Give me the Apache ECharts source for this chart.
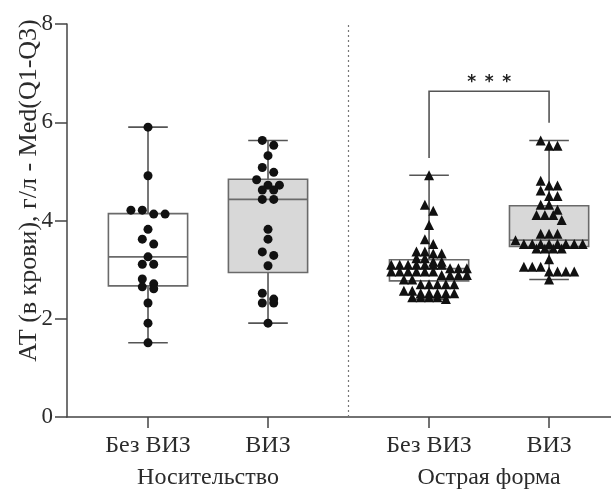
<!DOCTYPE html>
<html>
<head>
<meta charset="utf-8">
<script src="https://cdn.jsdelivr.net/npm/echarts@6/dist/echarts.min.js"></script>
<style>
  html, body { margin: 0; padding: 0; background: #fff; }
  #chart { width: 611px; height: 490px; }
</style>
</head>
<body>
<div id="chart"></div>
<script>
// --- data ---
const categories = ['Без ВИЗ', 'ВИЗ', 'Без ВИЗ', 'ВИЗ']
const groups = ['Носительство', 'Острая форма']
const yTitle = 'АТ (в крови), г/л - Med(Q1-Q3)'
const signif = ['*', '*', '*']

// min, Q1, median, Q3, max
const boxCarrierNo = [1.51, 2.67, 3.26, 4.14, 5.90]
const boxCarrierYes = [1.91, 2.94, 4.43, 4.84, 5.63]
const boxAcuteNo = [2.40, 2.77, 3.02, 3.20, 4.92]
const boxAcuteYes = [2.80, 3.47, 3.60, 4.30, 5.63]

const ptsCarrierNo = [5.90, 4.91, 4.21, 4.21, 4.13, 4.13, 3.82, 3.62, 3.52, 3.26, 3.11, 3.11,
  2.81, 2.71, 2.65, 2.61, 2.32, 1.91, 1.51]
const ptsCarrierYes = [5.63, 5.53, 5.32, 5.08, 4.98, 4.83, 4.72, 4.72, 4.62, 4.62, 4.43, 4.43,
  3.82, 3.62, 3.36, 3.29, 3.08, 2.52, 2.40, 2.32, 2.32, 1.91]
const ptsAcuteNo = [4.92, 4.32, 4.20, 3.91, 3.62, 3.52,
  3.37, 3.37, 3.33, 3.33, 3.23, 3.23, 3.16, 3.16,
  3.10, 3.10, 3.10, 3.10, 3.10, 3.10, 3.10, 3.03, 3.03, 3.03,
  2.96, 2.96, 2.96, 2.96, 2.96, 2.96, 2.89, 2.89, 2.89, 2.89,
  2.80, 2.80, 2.70, 2.70, 2.70, 2.70, 2.70,
  2.57, 2.57, 2.52, 2.52, 2.52, 2.52, 2.52,
  2.44, 2.44, 2.44, 2.44, 2.40]
const ptsAcuteYes = [5.63, 5.52, 5.52, 4.81, 4.71, 4.71, 4.61, 4.50, 4.50, 4.32, 4.32, 4.22,
  4.11, 4.11, 4.11, 4.01, 3.73, 3.73, 3.73, 3.60,
  3.52, 3.52, 3.52, 3.52, 3.52, 3.52, 3.52, 3.52, 3.43, 3.43, 3.43, 3.43,
  3.21, 3.06, 3.06, 3.06, 2.96, 2.96, 2.96, 2.96, 2.80]

// --- layout ---
const boxes = [boxCarrierNo, boxCarrierYes, boxAcuteNo, boxAcuteYes]
const points = [ptsCarrierNo, ptsCarrierYes, ptsAcuteNo, ptsAcuteYes]
const groupGap = 0.342
const catPos = categories.map((_, i) => 0.675 + i + (i >= 2 ? groupGap : 0))
const groupPos = [(catPos[0] + catPos[1]) / 2, (catPos[2] + catPos[3]) / 2]
const sepPos = (catPos[1] + catPos[2]) / 2
const xMax = 4.533
const boxWidth = 0.66
const capWidth = 0.33

const font = 'Liberation Serif'
const ink = '#2b2b2b'
const lineCol = '#555'

const chart = echarts.init(document.getElementById('chart'))

const nearestLabel = (v, pos, names) => {
  let best = 0
  pos.forEach((p, i) => { if (Math.abs(p - v) < Math.abs(pos[best] - v)) best = i })
  return names[best]
}

const gridBox = { left: 67, right: 0, top: 24, bottom: 73 }

const option = {
  animation: false,
  backgroundColor: '#fff',
  grid: [
    { ...gridBox },
    { ...gridBox }
  ],
  xAxis: [
    {
      type: 'value', gridIndex: 0, min: 0, max: xMax,
      splitLine: { show: false },
      axisLine: { show: true, onZero: false, lineStyle: { color: '#444', width: 1.5 } },
      axisTick: { show: true, length: 11, customValues: catPos, lineStyle: { color: '#444', width: 1.5 } },
      axisLabel: {
        customValues: catPos, margin: 17,
        fontFamily: font, fontSize: 24, color: ink,
        formatter: v => nearestLabel(v, catPos, categories)
      }
    },
    {
      type: 'value', gridIndex: 1, min: 0, max: xMax,
      splitLine: { show: false },
      axisLine: { show: false },
      axisTick: { show: false },
      axisLabel: {
        customValues: groupPos, margin: 54,
        fontFamily: font, fontSize: 24, color: ink,
        formatter: v => nearestLabel(v, groupPos, groups)
      }
    }
  ],
  yAxis: [
    {
      type: 'value', gridIndex: 0, min: 0, max: 8, interval: 2,
      splitLine: { show: false },
      axisLine: { show: true, lineStyle: { color: '#444', width: 1.5 } },
      axisTick: { show: true, length: 12, lineStyle: { color: '#444', width: 1.5 } },
      axisLabel: { margin: 14, fontFamily: font, fontSize: 23, color: ink },
      name: yTitle, nameLocation: 'middle', nameRotate: 90, nameGap: 25,
      nameMoveOverlap: false,
      nameTextStyle: { fontFamily: font, fontSize: 26, color: ink, padding: [0, 0, 0, 60] }
    },
    { type: 'value', gridIndex: 1, min: 0, max: 8, show: false }
  ],
  series: [
    {
      type: 'custom',
      name: 'boxes',
      xAxisIndex: 0, yAxisIndex: 0,
      z: 2,
      data: boxes.map((b, i) => [catPos[i], ...b]),
      renderItem: (params, api) => {
        const x = api.value(0)
        const lo = api.coord([x, api.value(1)])
        const q1 = api.coord([x, api.value(2)])
        const md = api.coord([x, api.value(3)])
        const q3 = api.coord([x, api.value(4)])
        const hi = api.coord([x, api.value(5)])
        const bw = api.size([boxWidth, 0])[0]
        const cw = api.size([capWidth, 0])[0]
        const fill = params.dataIndex % 2 ? '#d8d8d8' : '#fff'
        const ln = { stroke: lineCol, lineWidth: 1.6 }
        const bx = { stroke: '#6a6a6a', lineWidth: 1.6 }
        return {
          type: 'group',
          children: [
            { type: 'line', shape: { x1: hi[0], y1: hi[1], x2: q3[0], y2: q3[1] }, style: ln },
            { type: 'line', shape: { x1: q1[0], y1: q1[1], x2: lo[0], y2: lo[1] }, style: ln },
            { type: 'line', shape: { x1: hi[0] - cw / 2, y1: hi[1], x2: hi[0] + cw / 2, y2: hi[1] }, style: ln },
            { type: 'line', shape: { x1: lo[0] - cw / 2, y1: lo[1], x2: lo[0] + cw / 2, y2: lo[1] }, style: ln },
            { type: 'rect', shape: { x: q3[0] - bw / 2, y: q3[1], width: bw, height: q1[1] - q3[1] },
              style: { fill, ...bx } },
            { type: 'line', shape: { x1: md[0] - bw / 2, y1: md[1], x2: md[0] + bw / 2, y2: md[1] }, style: bx }
          ]
        }
      },
      markLine: {
        silent: true, symbol: 'none', label: { show: false },
        lineStyle: { type: [2, 3], color: '#777', width: 1.2 },
        data: [[{ coord: [sepPos, 0] }, { coord: [sepPos, 8] }]]
      }
    },
    {
      type: 'custom',
      name: 'bracket',
      xAxisIndex: 0, yAxisIndex: 0,
      z: 2,
      data: [[catPos[2], catPos[3], boxAcuteNo[4] + 0.35, boxAcuteYes[4] + 0.36,
        Math.max(boxAcuteNo[4], boxAcuteYes[4]) + 1.0]],
      renderItem: (params, api) => {
        const a = api.coord([api.value(0), api.value(2)])
        const b = api.coord([api.value(1), api.value(3)])
        const ta = api.coord([api.value(0), api.value(4)])
        const tb = api.coord([api.value(1), api.value(4)])
        const mid = (ta[0] + tb[0]) / 2
        const stars = signif.map((s, k) => ({
          type: 'text',
          style: { x: mid + (k - 1) * 17.5, y: ta[1] - 9, text: s,
            fontFamily: 'DejaVu Sans', fontWeight: 'bold', fontSize: 17, fill: '#222',
            align: 'center', verticalAlign: 'middle' }
        }))
        return {
          type: 'group',
          children: [
            { type: 'polyline', shape: { points: [a, ta, tb, b] },
              style: { stroke: lineCol, lineWidth: 1.6, fill: null } },
            ...stars
          ]
        }
      }
    },
    ...points.map((p, i) => ({
      type: 'scatter',
      name: 'pts' + i,
      xAxisIndex: 0, yAxisIndex: 0,
      z: 3,
      symbol: i < 2 ? 'circle' : 'triangle',
      symbolSize: i < 2 ? 9 : 10,
      itemStyle: { color: '#111', opacity: 1 },
      data: []
    })),
    { type: 'scatter', xAxisIndex: 1, yAxisIndex: 1, data: [] }
  ]
}

chart.setOption(option)

// row-binned spread of points (points closer than binH px share a row)
const swarm = (values, center, spacing, binH) => {
  const c0 = chart.convertToPixel({ gridIndex: 0 }, [center, 0])
  const c1 = chart.convertToPixel({ gridIndex: 0 }, [center + 1, 1])
  const pxX = c1[0] - c0[0]
  const pxY = Math.abs(c1[1] - c0[1])
  const sorted = values.slice().sort((a, b) => b - a)
  const rows = []
  sorted.forEach(v => {
    const row = rows[rows.length - 1]
    if (row && (row[0] - v) * pxY < binH) row.push(v)
    else rows.push([v])
  })
  const out = []
  rows.forEach(row => {
    row.forEach((v, k) => {
      const dx = (k - (row.length - 1) / 2) * spacing
      out.push([center + dx / pxX, v])
    })
  })
  return out
}

chart.setOption({
  series: points.map((p, i) => ({
    name: 'pts' + i,
    data: i < 2 ? swarm(p, catPos[i], 11.4, 6) : swarm(p, catPos[i], 8.4, 6)
  }))
})
</script>
</body>
</html>
